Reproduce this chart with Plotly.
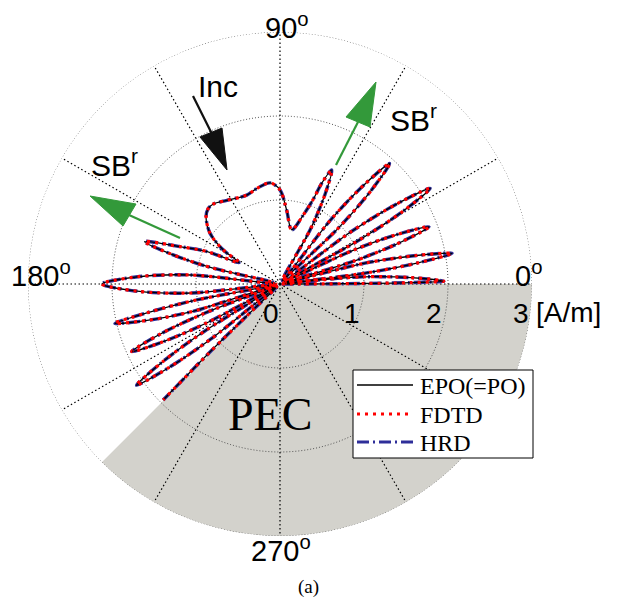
import plotly.graph_objects as go

# ---------------- data ----------------
pattern_theta = [
    0, 0.15, 0.35, 0.6, 1.0, 2.8, 5.0, 6.0, 6.5,
    7.3, 8.7, 10.1, 11.8, 13.8, 16.0,
    17.3, 19.1, 21.0, 22.9, 24.8, 27.2,
    29.0, 30.6, 32.5, 34.4, 36.3, 40.2,
    43.8, 45.7, 47.7, 49.7, 51.7, 56.5,
    61.0, 63.3, 65.6, 67.5, 68.6, 71.3, 77.8,
    84.8, 90, 95.6, 103.7, 110.5, 122.4, 129.8, 133.5, 137.7, 144, 149, 152.4,
    156, 159.5, 162.6, 164.6, 166.6, 171,
    174.2, 177.1, 180, 182.9, 185.8, 187.8,
    190.8, 192.2, 193.4, 195.4, 197.4, 199.3,
    201.2, 202.7, 204.5, 206.3, 208.0, 210.2,
    212.0, 213.5, 215.2, 216.9, 218.5, 220.8,
    223.8, 224.2, 224.8,
]
pattern_r = [
    0.02, 0.5, 0.98, 1.56, 1.95, 1.56, 0.98, 0.4, 0.05,
    1.04, 1.66, 2.08, 1.66, 1.04, 0.05,
    0.95, 1.52, 1.90, 1.52, 0.95, 0.05,
    1.06, 1.70, 2.12, 1.70, 1.06, 0.05,
    0.97, 1.55, 1.94, 1.55, 0.97, 0.05,
    0.75, 1.19, 1.49, 1.30, 1.08, 0.87, 0.66,
    0.88, 1.12, 1.21, 1.17, 1.13, 1.18, 1.24, 1.24, 1.19, 1.03, 0.79, 0.55,
    0.95, 1.27, 1.69, 1.35, 0.85, 0.05,
    1.06, 1.70, 2.12, 1.70, 1.06, 0.05,
    1.01, 1.62, 2.02, 1.62, 1.10, 0.05,
    0.97, 1.55, 1.94, 1.55, 0.97, 0.05,
    1.05, 1.67, 2.09, 1.67, 1.05, 0.05,
    0.5, 1.2, 1.96,
]
assert len(pattern_theta) == len(pattern_r)

series_names = ["EPO(=PO)", "FDTD", "HRD"]
pec_theta_range = [225, 360]
radial_ticks = [0, 1, 2, 3]
radial_unit = "[A/m]"
angle_ticks = [0, 90, 180, 270]
grid_spokes = list(range(0, 360, 30))
r_max = 3

# ---------------- geometry ----------------
W, H = 617, 603
CX, CY, RAD = 280, 284, 252


def fx(x):
    return x / W


def fy(y):
    return 1 - y / H


styles = {
    "EPO(=PO)": dict(color="black", width=1.3),
    "FDTD": dict(color="#ff0000", width=3.2, dash="3px,5px"),
    "HRD": dict(color="#2e2e99", width=3.4, dash="12px,4px,2px,4px"),
}

fig = go.Figure()

# PEC half-space
fig.add_trace(go.Barpolar(
    r=[r_max], theta=[(pec_theta_range[0] + pec_theta_range[1]) / 2],
    width=[pec_theta_range[1] - pec_theta_range[0]], base=0,
    marker=dict(color="#d3d2cc", line=dict(width=0)),
    showlegend=False, hoverinfo="skip"))

# grid circles
circ_theta = list(range(0, 361, 1))
for rv in radial_ticks[1:]:
    fig.add_trace(go.Scatterpolar(
        r=[rv] * len(circ_theta), theta=circ_theta, mode="lines",
        line=dict(color="#555555", width=1, dash="1px,2px"),
        showlegend=False, hoverinfo="skip"))

# spokes
sp_t, sp_r = [], []
for a in grid_spokes:
    sp_t += [a, a, None]
    sp_r += [0, r_max, None]
fig.add_trace(go.Scatterpolar(
    r=sp_r, theta=sp_t, mode="lines",
    line=dict(color="black", width=1.2, dash="1.5px,2.5px"),
    showlegend=False, hoverinfo="skip", connectgaps=False))

# curves (drawn: HRD, EPO, FDTD on top)
for name in ["HRD", "EPO(=PO)", "FDTD"]:
    st = dict(styles[name])
    st.update(shape="spline", smoothing=0.9)
    fig.add_trace(go.Scatterpolar(
        r=pattern_r, theta=pattern_theta, mode="lines", name=name,
        line=st, showlegend=False))

sans = "Liberation Sans, Arial, sans-serif"
serif = "Liberation Serif, Times New Roman, serif"

ann = []
# angle labels
ang_pos = {0: (544, 274, "right"), 90: (287, 26, "center"),
           180: (41, 274, "center"), 270: (281, 549, "center")}
for a in angle_ticks:
    x, y, xa = ang_pos[a]
    ann.append(dict(x=fx(x), y=fy(y), xref="paper", yref="paper", text=f"{a}<sup>o</sup>",
                    showarrow=False, xanchor=xa, yanchor="middle",
                    font=dict(family=sans, size=29, color="black")))
# radial tick labels
rad_pos = {0: 271, 1: 352, 2: 434, 3: 521}
for t in radial_ticks:
    ann.append(dict(x=fx(rad_pos[t]), y=fy(313), xref="paper", yref="paper", text=str(t),
                    showarrow=False, xanchor="center", yanchor="middle",
                    font=dict(family=sans, size=28, color="black")))
ann.append(dict(x=fx(568), y=fy(312), xref="paper", yref="paper", text=radial_unit,
                showarrow=False, xanchor="center", yanchor="middle",
                font=dict(family=sans, size=28, color="black")))
# text labels
ann.append(dict(x=fx(218), y=fy(86), xref="paper", yref="paper", text="Inc",
                showarrow=False, xanchor="center", yanchor="middle",
                font=dict(family=sans, size=30, color="black")))
ann.append(dict(x=fx(114), y=fy(163), xref="paper", yref="paper", text="SB<sup>r</sup>",
                showarrow=False, xanchor="center", yanchor="middle",
                font=dict(family=sans, size=30, color="black")))
ann.append(dict(x=fx(413), y=fy(118), xref="paper", yref="paper", text="SB<sup>r</sup>",
                showarrow=False, xanchor="center", yanchor="middle",
                font=dict(family=sans, size=30, color="black")))
ann.append(dict(x=fx(270), y=fy(414), xref="paper", yref="paper", text="PEC",
                showarrow=False, xanchor="center", yanchor="middle",
                font=dict(family=serif, size=46, color="black")))
ann.append(dict(x=fx(308), y=fy(587), xref="paper", yref="paper", text="(a)",
                showarrow=False, xanchor="center", yanchor="middle",
                font=dict(family=serif, size=19, color="black")))

shapes = []


def arrow(x0, y0, xb, yb, tip, c1, c2, color):
    shapes.append(dict(type="line", xref="paper", yref="paper",
                       x0=fx(x0), y0=fy(y0), x1=fx(xb), y1=fy(yb),
                       line=dict(color=color, width=2.2)))
    p = "M {} {} L {} {} L {} {} Z".format(fx(tip[0]), fy(tip[1]), fx(c1[0]), fy(c1[1]),
                                          fx(c2[0]), fy(c2[1]))
    shapes.append(dict(type="path", xref="paper", yref="paper", path=p,
                       fillcolor=color, line=dict(color=color, width=1)))


arrow(193, 96, 212, 134, (227, 170), (200, 137), (222, 128), "#111111")
arrow(180, 238, 129, 215, (90, 196), (136, 204), (123, 226), "#33993a")
arrow(336, 165, 358, 122, (376, 82), (346, 117), (370, 127), "#33993a")

# legend box (drawn manually to match the reference's compact layout)
shapes.append(dict(type="rect", xref="paper", yref="paper",
                   x0=fx(353), y0=fy(458), x1=fx(533), y1=fy(370),
                   fillcolor="white", line=dict(color="black", width=1), layer="above"))
leg_y = {"EPO(=PO)": 385, "FDTD": 414, "HRD": 442}
for name in series_names:
    st = styles[name]
    shapes.append(dict(type="line", xref="paper", yref="paper",
                       x0=fx(357), x1=fx(413), y0=fy(leg_y[name]), y1=fy(leg_y[name]),
                       line=dict(color=st["color"], width=min(st["width"], 3),
                                 dash=st.get("dash", "solid")), layer="above"))
    ann.append(dict(x=fx(418), y=fy(leg_y[name] + 1), xref="paper", yref="paper", text=name,
                    showarrow=False, xanchor="left", yanchor="middle",
                    font=dict(family=serif, size=24, color="black")))

fig.update_layout(
    width=W, height=H,
    margin=dict(l=0, r=0, t=0, b=0),
    paper_bgcolor="white",
    showlegend=False,
    polar=dict(
        domain=dict(x=[fx(CX - RAD), fx(CX + RAD)], y=[fy(CY + RAD), fy(CY - RAD)]),
        bgcolor="rgba(0,0,0,0)",
        radialaxis=dict(range=[0, r_max], showgrid=False, showticklabels=False,
                        showline=False, ticks=""),
        angularaxis=dict(rotation=0, direction="counterclockwise", showgrid=False,
                         showticklabels=False, showline=False, ticks=""),
    ),
    annotations=ann,
    shapes=shapes,
)

fig.write_html("out.html")
